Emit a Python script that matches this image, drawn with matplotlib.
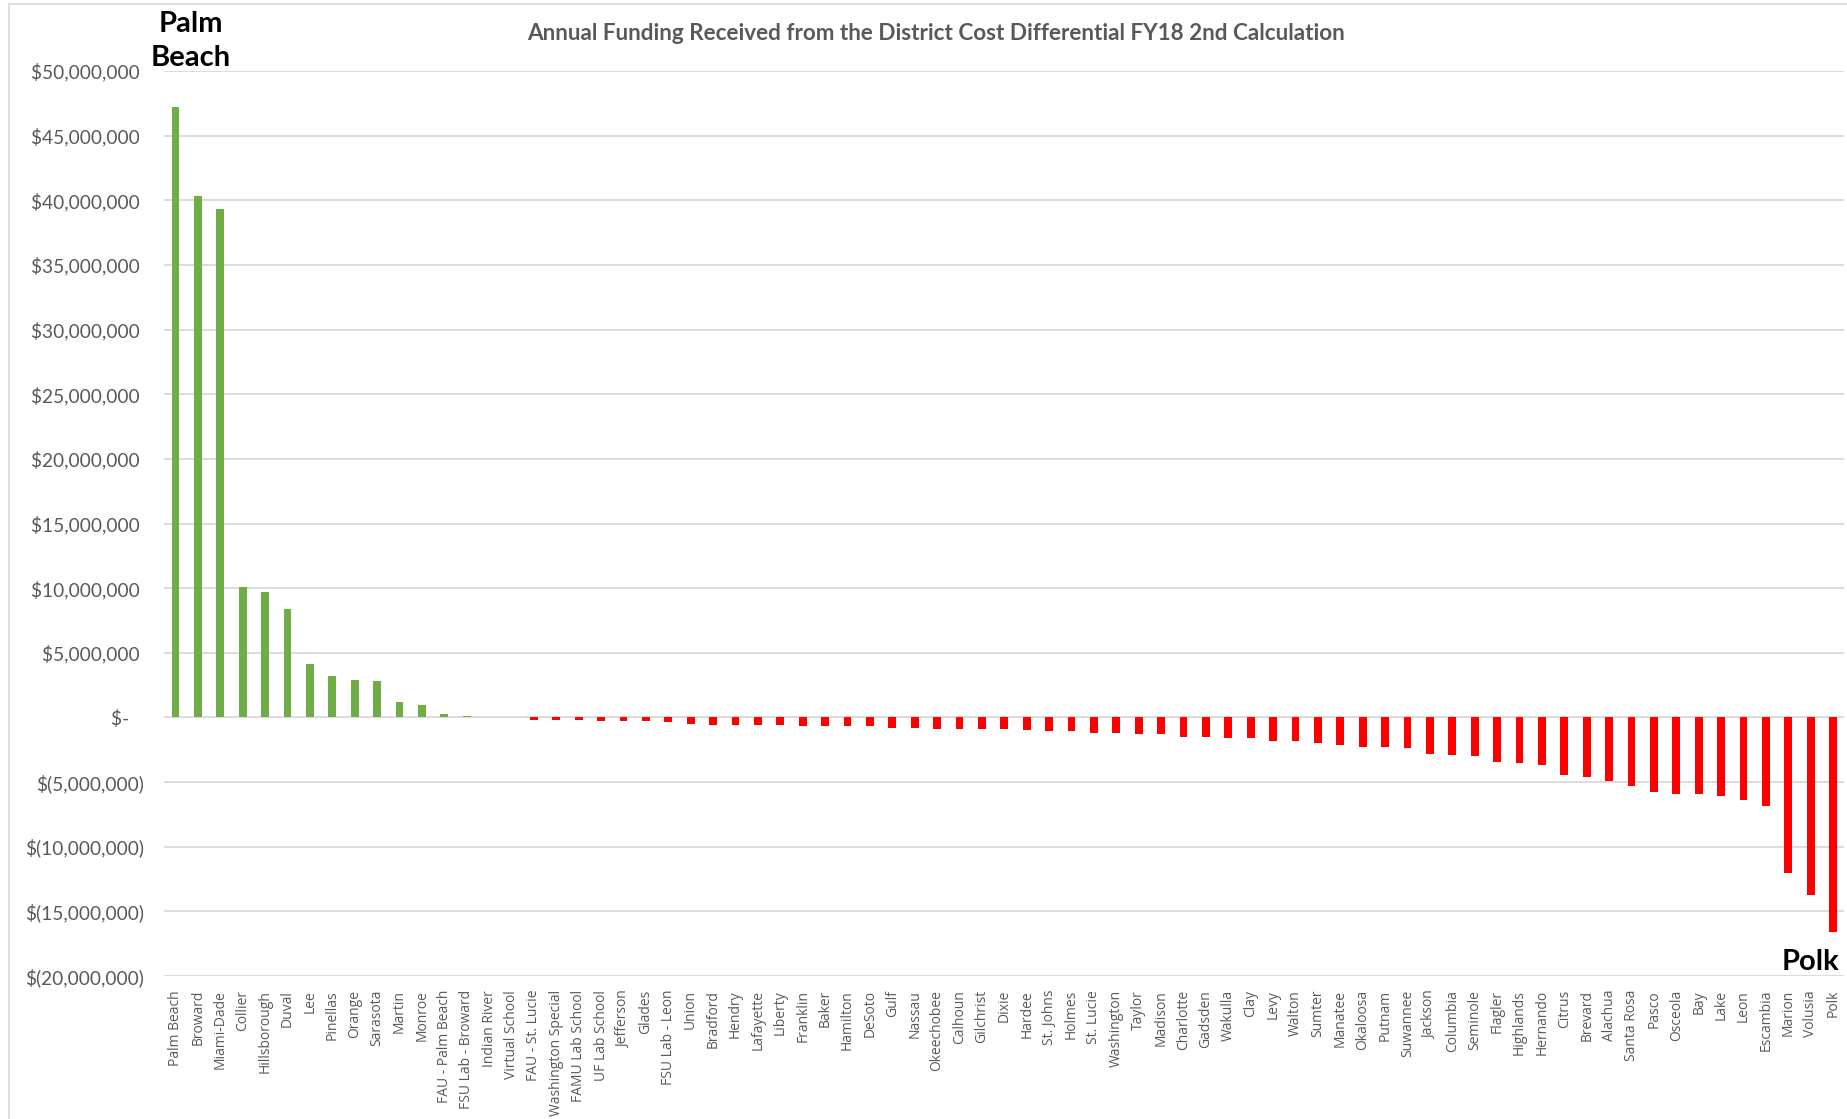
import matplotlib
matplotlib.use("Agg")
import matplotlib.pyplot as plt
from matplotlib.ticker import FuncFormatter, MultipleLocator
from matplotlib.patches import Rectangle

districts = [
    "Palm Beach", "Broward", "Miami-Dade", "Collier", "Hillsborough", "Duval", "Lee",
    "Pinellas", "Orange", "Sarasota", "Martin", "Monroe", "FAU - Palm Beach",
    "FSU Lab - Broward", "Indian River", "Virtual School", "FAU - St. Lucie",
    "Washington Special", "FAMU Lab School", "UF Lab School", "Jefferson", "Glades",
    "FSU Lab - Leon", "Union", "Bradford", "Hendry", "Lafayette", "Liberty", "Franklin",
    "Baker", "Hamilton", "DeSoto", "Gulf", "Nassau", "Okeechobee", "Calhoun", "Gilchrist",
    "Dixie", "Hardee", "St. Johns", "Holmes", "St. Lucie", "Washington", "Taylor",
    "Madison", "Charlotte", "Gadsden", "Wakulla", "Clay", "Levy", "Walton", "Sumter",
    "Manatee", "Okaloosa", "Putnam", "Suwannee", "Jackson", "Columbia", "Seminole",
    "Flagler", "Highlands", "Hernando", "Citrus", "Brevard", "Alachua", "Santa Rosa",
    "Pasco", "Osceola", "Bay", "Lake", "Leon", "Escambia", "Marion", "Volusia", "Polk",
]

# Funding in millions of dollars
funding_m = [
    47.2, 40.3, 39.3, 10.1, 9.67, 8.37, 4.13,
    3.2, 2.89, 2.8, 1.18, 0.98, 0.26,
    0.08, 0.06, 0.0, -0.23,
    -0.23, -0.23, -0.31, -0.31, -0.31,
    -0.39, -0.54, -0.62, -0.62, -0.62, -0.62, -0.70,
    -0.70, -0.70, -0.70, -0.85, -0.85, -0.93, -0.93, -0.93,
    -0.93, -1.01, -1.07, -1.07, -1.22, -1.22, -1.29,
    -1.29, -1.52, -1.52, -1.60, -1.60, -1.83, -1.83, -1.99,
    -2.14, -2.30, -2.30, -2.37, -2.84, -2.92, -2.99,
    -3.46, -3.54, -3.69, -4.47, -4.62, -4.93, -5.32,
    -5.78, -5.94, -5.94, -6.09, -6.40, -6.87, -12.05, -13.75, -16.6,
]

title = "Annual Funding Received from the District Cost Differential FY18 2nd Calculation"

W, H = 1847, 1119
fig = plt.figure(figsize=(W / 100, H / 100), dpi=100)
fig.patch.set_facecolor("white")

# chart border
fig.add_artist(Rectangle((9 / W, -0.01), 1.1, (H - 4) / H + 0.01, transform=fig.transFigure,
                         fill=False, edgecolor="#D9D9D9", linewidth=1.2))

left, right = 164.3, 1844.3
top, bottom = 71, 976
ax = fig.add_axes([left / W, (H - bottom) / H, (right - left) / W, (bottom - top) / H])

x = list(range(len(districts)))
vals = [v * 1e6 for v in funding_m]
colors = ["#70AD47" if v >= 0 else "#FF0000" for v in vals]
ax.bar(x, vals, width=0.34, color=colors, zorder=3)

ax.set_xlim(-0.5, len(districts) - 0.5)
ax.set_ylim(-20e6, 50e6)
ax.yaxis.set_major_locator(MultipleLocator(5e6))


def fmt(v, pos):
    if abs(v) < 1:
        return "$-   "
    if v < 0:
        return "$({:,.0f})".format(-v)
    return "${:,.0f} ".format(v)


ax.yaxis.set_major_formatter(FuncFormatter(fmt))
ax.grid(axis="y", color="#D9D9D9", linewidth=1.3, zorder=0)
ax.grid(axis="x", visible=False)
for s in ax.spines.values():
    s.set_visible(False)

ax.tick_params(axis="y", length=0, pad=14.5, labelsize=13.8, labelcolor="#595959")
for lab in ax.get_yticklabels():
    lab.set_family(["Lato", "DejaVu Sans"])

ax.set_xticks(x)
ax.set_xticklabels(districts, rotation=90, fontsize=10, color="#595959",
                   family=["Open Sans", "DejaVu Sans"], va="top", ha="center")
ax.tick_params(axis="x", length=0, pad=10)

fig.text(936 / W, 1 - 33 / H, title, ha="center", va="center", fontsize=16.2,
         fontweight="bold", color="#595959", family=["Lato", "DejaVu Sans"])

fig.text(191 / W, 1 - 41 / H, "Palm\nBeach", ha="center", va="center", fontsize=21,
         fontweight="bold", color="black", family=["Lato", "DejaVu Sans"], linespacing=1.42)
fig.text(1839 / W, 1 - 962 / H, "Polk", ha="right", va="center", fontsize=21,
         fontweight="bold", color="black", family=["Lato", "DejaVu Sans"])

fig.savefig("out.png", dpi=100, facecolor="white")
